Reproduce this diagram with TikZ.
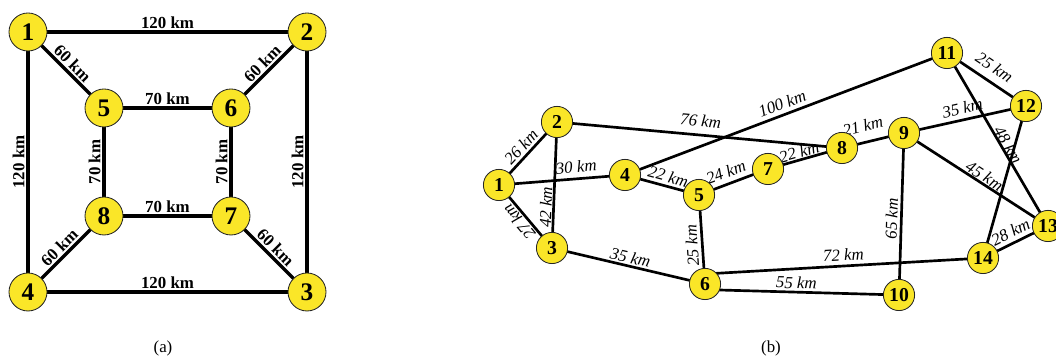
\documentclass[tikz,border=0pt]{standalone}
\usepackage{fontspec}
\setmainfont{Liberation Serif}
\usepackage{tkz-euclide}
\definecolor{cityfill}{RGB}{250,230,40}
\tikzset{
  citya/.style={circle,draw=black!85,line width=0.6pt,fill=cityfill,
    minimum size=0.95cm,inner sep=0pt,font=\bfseries\fontsize{18}{18}\selectfont},
  cityb/.style={circle,draw=black!85,line width=0.6pt,fill=cityfill,
    minimum size=0.78cm,inner sep=0pt,font=\bfseries\fontsize{14}{14}\selectfont},
  kma/.style={sloped,above,inner sep=2.3pt,font=\bfseries\fontsize{12}{12}\selectfont},
  kmb/.style={sloped,above,inner sep=2.5pt,font=\itshape\fontsize{12}{12}\selectfont},
}

\begin{document}
\begin{tikzpicture}
  \useasboundingbox (0,0) rectangle (26.4,8.95);
  % (a)
  \tkzDefPoint(0.70,8.15){a1}
  \tkzDefPoint(7.675,8.15){a2}
  \tkzDefPoint(7.675,1.65){a3}
  \tkzDefPoint(0.70,1.65){a4}
  \tkzDefPoint(2.60,6.25){a5}
  \tkzDefPoint(5.775,6.25){a6}
  \tkzDefPoint(5.775,3.55){a7}
  \tkzDefPoint(2.60,3.55){a8}
  \tkzDrawSegments[line width=2.3pt](a1,a2 a2,a3 a3,a4 a4,a1 a5,a6 a6,a7 a7,a8 a8,a5 a1,a5 a2,a6 a7,a3 a4,a8)
  \tkzLabelSegment[kma](a1,a2){120 km}
  \tkzLabelSegment[kma](a4,a3){120 km}
  \tkzLabelSegment[kma](a4,a1){120 km}
  \tkzLabelSegment[kma](a3,a2){120 km}
  \tkzLabelSegment[kma](a5,a6){70 km}
  \tkzLabelSegment[kma](a8,a7){70 km}
  \tkzLabelSegment[kma](a8,a5){70 km}
  \tkzLabelSegment[kma](a7,a6){70 km}
  \tkzLabelSegment[kma](a1,a5){60 km}
  \tkzLabelSegment[kma](a6,a2){60 km}
  \tkzLabelSegment[kma](a4,a8){60 km}
  \tkzLabelSegment[kma](a7,a3){60 km}
  \foreach \i in {1,...,8}
    \node[citya] (A\i) at (a\i) {\i};
  \node[font=\fontsize{12}{14}\selectfont] (capa) at (4.075,0.25) {(a)};
  % (b)
  \tkzDefPoint(12.475,4.325){b1}
  \tkzDefPoint(13.925,5.90){b2}
  \tkzDefPoint(13.80,2.75){b3}
  \tkzDefPoint(15.625,4.575){b4}
  \tkzDefPoint(17.475,4.075){b5}
  \tkzDefPoint(17.625,1.85){b6}
  \tkzDefPoint(19.20,4.725){b7}
  \tkzDefPoint(21.05,5.25){b8}
  \tkzDefPoint(22.60,5.625){b9}
  \tkzDefPoint(22.475,1.575){b10}
  \tkzDefPoint(23.675,7.625){b11}
  \tkzDefPoint(25.65,6.30){b12}
  \tkzDefPoint(26.20,3.30){b13}
  \tkzDefPoint(24.575,2.50){b14}
  % the two long roads leave 6 above and below its centre
  \tkzDefPoint(17.625,2.10){b6up}
  \tkzDefPoint(17.625,1.71){b6dn}
  \tkzDrawSegments[line width=1.9pt](b1,b2 b1,b3 b1,b4 b2,b3 b2,b8 b4,b11 b4,b5 b5,b7 b7,b8 b8,b9 b5,b6 b3,b6 b6up,b14 b6dn,b10 b9,b10 b9,b12 b9,b13 b11,b12 b11,b13 b12,b14 b14,b13)
  \tkzLabelSegment[kmb,inner sep=2.3pt](b1,b2){26 km}
  \tkzLabelSegment[kmb,inner sep=1.9pt,allow upside down](b3,b1){27 km}
  \tkzLabelSegment[kmb,inner sep=4.1pt,pos=0.62](b1,b4){30 km}
  \tkzLabelSegment[kmb,inner sep=1.2pt,pos=0.32](b3,b2){42 km}
  \tkzLabelSegment[kmb,inner sep=5.5pt](b2,b8){76 km}
  \tkzLabelSegment[kmb,inner sep=3.4pt](b4,b11){100 km}
  \tkzLabelSegment[kmb,inner sep=2.8pt,pos=0.55](b4,b5){22 km}
  \tkzLabelSegment[kmb,inner sep=4.1pt,pos=0.45](b5,b7){24 km}
  \tkzLabelSegment[kmb,inner sep=1.3pt,pos=0.45](b7,b8){22 km}
  \tkzLabelSegment[kmb,inner sep=7.5pt,pos=0.4](b8,b9){21 km}
  \tkzLabelSegment[kmb,inner sep=3pt,pos=0.44,allow upside down](b6,b5){25 km}
  \tkzLabelSegment[kmb,inner sep=1.9pt](b3,b6){35 km}
  \tkzLabelSegment[kmb,inner sep=3.6pt](b6up,b14){72 km}
  \tkzLabelSegment[kmb,inner sep=2.3pt,pos=0.47](b6dn,b10){55 km}
  \tkzLabelSegment[kmb,inner sep=2.6pt,pos=0.47](b10,b9){65 km}
  \tkzLabelSegment[kmb,inner sep=3.9pt](b9,b12){35 km}
  \tkzLabelSegment[kmb,inner sep=1.1pt,pos=0.53](b9,b13){45 km}
  \tkzLabelSegment[kmb,inner sep=5.8pt](b11,b12){25 km}
  \tkzLabelSegment[kmb,inner sep=0.3pt,pos=0.55](b11,b13){48 km}
  \tkzLabelSegment[kmb,inner sep=3.5pt,pos=0.5](b14,b13){28 km}
  \foreach \i in {1,...,14}
    \node[cityb] (B\i) at (b\i) {\i};
  \node[font=\fontsize{12}{14}\selectfont] (capb) at (19.275,0.25) {(b)};
\end{tikzpicture}
\end{document}
